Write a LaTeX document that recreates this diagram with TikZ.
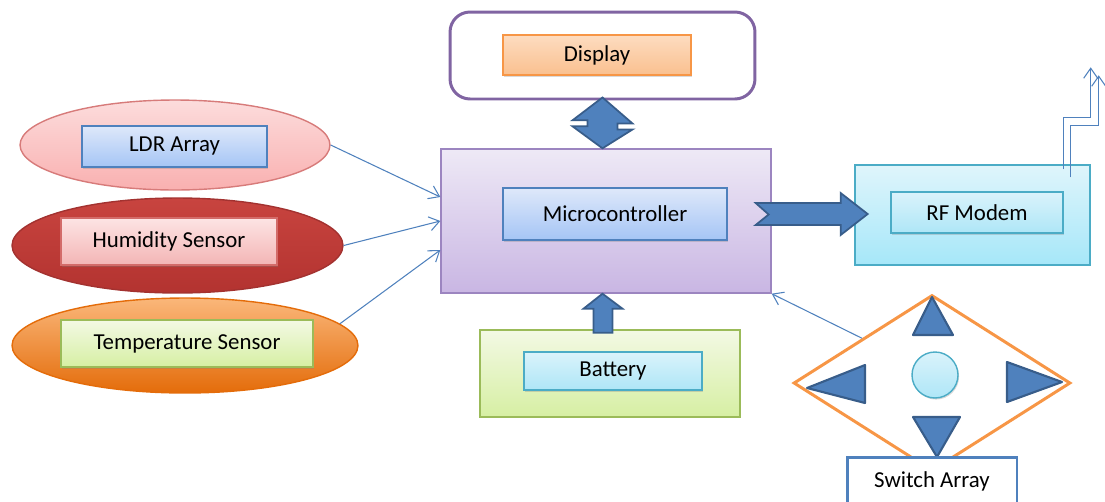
\documentclass[tikz,border=0pt]{standalone}
\usepackage{fontspec}
\setmainfont{Carlito}
\usepackage{xcolor}
\usepackage{tikz}
\usetikzlibrary{arrows.meta, positioning, shapes.geometric, shadows, calc}
\definecolor{lineblue}{HTML}{4F81BD}
\definecolor{arrowdark}{HTML}{385D8A}
\definecolor{purpleline}{HTML}{8064A2}
\definecolor{mculine}{HTML}{9C85C0}
\definecolor{orangeline}{HTML}{F79646}
\definecolor{cyanline}{HTML}{4BACC6}
\definecolor{greenline}{HTML}{9BBB59}
\definecolor{dispTop}{HTML}{FDDCC0}
\definecolor{dispBot}{HTML}{FAC08F}
\definecolor{mcuTop}{HTML}{EEE9F6}
\definecolor{mcuBot}{HTML}{C9B6E3}
\definecolor{blueTop}{HTML}{DEE8FA}
\definecolor{blueBot}{HTML}{A5C5F5}
\definecolor{rfTop}{HTML}{DFF5FB}
\definecolor{rfBot}{HTML}{A6E7F9}
\definecolor{cyanTop}{HTML}{DAF3FB}
\definecolor{cyanBot}{HTML}{AEE6F7}
\definecolor{batTop}{HTML}{F3F9E4}
\definecolor{batBot}{HTML}{D6EFA3}
\definecolor{ldrTop}{HTML}{FCDCDC}
\definecolor{ldrBot}{HTML}{F9B0B0}
\definecolor{ldrline}{HTML}{D77B7A}
\definecolor{humTop}{HTML}{C8443F}
\definecolor{humBot}{HTML}{B33330}
\definecolor{humline}{HTML}{A33230}
\definecolor{pinkTop}{HTML}{FDE4E4}
\definecolor{pinkBot}{HTML}{F3B5B5}
\definecolor{redline}{HTML}{D36B69}
\definecolor{tempTop}{HTML}{FAB77A}
\definecolor{tempMid}{HTML}{F79646}
\definecolor{tempBot}{HTML}{E46C0A}
\definecolor{templine}{HTML}{E46C0A}

\begin{document}
\begin{tikzpicture}[x=0.02cm, y=-0.02cm, font=\fontsize{13}{15}\selectfont,
    frame/.style={rectangle, draw, line width=0.8pt, inner sep=0pt},
    inbox/.style={rectangle, draw, line width=0.8pt, inner sep=0pt,
      drop shadow={shadow xshift=0.6pt, shadow yshift=-0.9pt, opacity=0.3}},
    ell/.style={ellipse, draw, line width=0.8pt, inner sep=0pt},
    arr/.style={-{Straight Barb[length=2mm, width=2.8mm]}, draw=lineblue, line width=0.6pt},
    blk/.style={fill=lineblue, draw=arrowdark, line width=1pt},
    tri/.style={fill=lineblue, draw=arrowdark, line width=1.2pt, line join=round}]
    \useasboundingbox (0,0) rectangle (1105,501);
    % sensors
    \node[ell, draw=ldrline, top color=ldrTop, bottom color=ldrBot, minimum width=6.2cm, minimum height=1.8cm] (ldrell) at (175,145) {};
    \node[inbox, draw=lineblue, top color=blueTop, bottom color=blueBot, minimum width=3.7cm, minimum height=0.82cm] (ldr) at (174.5,146.5) {LDR Array};
    \node[ell, draw=humline, top color=humTop, bottom color=humBot, minimum width=6.62cm, minimum height=1.9cm] (humell) at (177.5,245.5) {};
    \node[inbox, draw=redline, top color=pinkTop, bottom color=pinkBot, minimum width=4.32cm, minimum height=0.94cm] (hum) at (169,241.5) {Humidity Sensor};
    \node[ell, draw=templine, top color=tempTop, middle color=tempMid, bottom color=tempBot, minimum width=6.92cm, minimum height=1.9cm] (tempell) at (185,345.5) {};
    \node[inbox, draw=greenline, top color=batTop, bottom color=batBot, minimum width=5.04cm, minimum height=0.94cm] (temp) at (187,343.5) {Temperature Sensor};
    % display, controller, modem, battery
    \node[frame, draw=purpleline, line width=1.7pt, rounded corners=0.4cm, minimum width=6.1cm, minimum height=1.74cm] (dispframe) at (602.5,55.5) {};
    \node[inbox, draw=orangeline, top color=dispTop, bottom color=dispBot, minimum width=3.76cm, minimum height=0.8cm] (disp) at (597,55) {Display};
    \node[frame, draw=mculine, top color=mcuTop, bottom color=mcuBot, minimum width=6.6cm, minimum height=2.88cm] (mcuframe) at (606,221) {};
    \node[inbox, draw=lineblue, top color=blueTop, bottom color=blueBot, minimum width=4.48cm, minimum height=1.04cm] (mcu) at (615,214) {Microcontroller};
    \node[frame, draw=cyanline, top color=rfTop, bottom color=rfBot, minimum width=4.7cm, minimum height=2cm] (rfframe) at (972.5,215) {};
    \node[inbox, draw=cyanline, top color=cyanTop, bottom color=cyanBot, minimum width=3.44cm, minimum height=0.82cm] (rf) at (977,212.5) {RF Modem};
    \node[frame, draw=greenline, top color=batTop, bottom color=batBot, minimum width=5.2cm, minimum height=1.74cm] (batframe) at (610,373.5) {};
    \node[inbox, draw=cyanline, top color=cyanTop, bottom color=cyanBot, minimum width=3.56cm, minimum height=0.76cm] (bat) at (613,371) {Battery};
    % switch pad
    \node[diamond, draw=orangeline, line width=1.7pt, inner sep=0pt, minimum width=5.54cm, minimum height=3.52cm] (swpad) at (932,383) {};
    \draw[tri] (932,297) -- (953,335) -- (913,335) -- cycle;
    \draw[tri] (913,417) -- (960,417) -- (937,457) -- cycle;
    \draw[tri] (807,388) -- (865,365) -- (865,403) -- cycle;
    \draw[tri] (1062,382) -- (1007,362) -- (1007,402) -- cycle;
    \node[circle, draw=cyanline, line width=0.8pt, top color=cyanTop, bottom color=cyanBot, minimum size=0.92cm, inner sep=0pt,
      drop shadow={shadow xshift=0.6pt, shadow yshift=-0.9pt, opacity=0.3}] (swbtn) at (935,375) {};
    \node[rectangle, draw=lineblue, line width=1.7pt, fill=white, minimum width=3.4cm, minimum height=0.96cm] (sw) at (932,481) {Switch Array};
    % block arrows
    \draw[blk] ($(dispframe.south)+(0,-3)$) -- ++(30,26) -- ++(-15,0) -- ++(0,6) -- ++(15,0)
      -- (dispframe.south |- mcuframe.north) -- ++(-30,-22) -- ++(15,0) -- ++(0,-6) -- ++(-15,0) -- cycle;
    \draw[blk] ($(mcuframe.east)+(-16,-18)$) -- ++(85,0) -- ++(0,-10) -- ++(27,21) -- ++(-27,21)
      -- ++(0,-10) -- ++(-85,0) -- ++(13,-10.5) -- cycle;
    \draw[blk] (dispframe.south |- mcuframe.south) -- ++(20,15) -- ++(-10,0) -- ++(0,24) -- ++(-19,0)
      -- ++(0,-24) -- ++(-10,0) -- cycle;
    % thin connectors
    \draw[arr] (ldrell.east) -- ($(mcuframe.west)+(0,-24)$);
    \draw[arr] (humell.east) -- (mcuframe.west);
    \draw[arr] (tempell.8) -- ($(mcuframe.west)+(0,29)$);
    \draw[arr] ($(swpad.north)!0.5!(swpad.west)$) -- (mcuframe.south east);
    % antenna
    \coordinate (ant) at ($(rfframe.north east)+(-27,5)$);
    \draw[arr] (ant) -- ++(0,-52) -- ++(27,0) -- ++(0,-50);
    \draw[arr] ($(ant)+(7,8)$) -- ++(0,-52) -- ++(28,0) -- ++(0,-50);
  \end{tikzpicture}
\end{document}
